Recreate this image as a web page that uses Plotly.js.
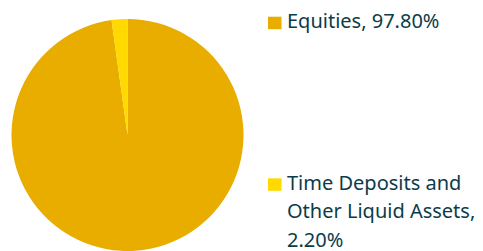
<!DOCTYPE html>
<html>
<head>
<meta charset="utf-8">
<script src="https://cdn.plot.ly/plotly-3.0.1.min.js"></script>
<style>html,body{margin:0;padding:0;background:#fff;}#chart{width:483px;height:251px;}</style>
</head>
<body>
<div id="chart"></div>
<script>
const labels = ["Equities", "Time Deposits and Other Liquid Assets"];
const values = [97.80, 2.20];
const colors = ["#E9AD00", "#FFD900"];

const W = 483, H = 251;
const FS = 20;
const textColor = "#0B3C49";

function wrap(text, maxChars) {
  const words = text.split(" ");
  const lines = [];
  let cur = "";
  words.forEach(w => {
    const t = cur ? cur + " " + w : w;
    if (t.length > maxChars && cur) { lines.push(cur); cur = w; }
    else cur = t;
  });
  if (cur) lines.push(cur);
  return lines;
}

const annotations = [];
const shapes = [];
const itemBaselines = [27.7, 189.3];
const lineGap = 28.5;
labels.forEach((lab, i) => {
  const full = lab + ", " + values[i].toFixed(2) + "%";
  const lines = wrap(full, 20);
  lines.forEach((ln, j) => {
    const base = itemBaselines[i] + j * lineGap;
    annotations.push({
      text: ln, xref: "paper", yref: "paper",
      x: 285.5 / W, y: 1 - (base - 0.36 * FS) / H,
      xanchor: "left", yanchor: "middle", showarrow: false, borderpad: 0,
      font: {family: "Noto Sans, Open Sans, sans-serif", size: FS, color: textColor}
    });
  });
  const sqTop = itemBaselines[i] - 11;
  shapes.push({
    type: "rect", xref: "paper", yref: "paper",
    x0: 268 / W, x1: 281.5 / W,
    y0: 1 - (sqTop + 12.5) / H, y1: 1 - sqTop / H,
    fillcolor: colors[i], line: {width: 0}
  });
});

const data = [{
  type: "pie",
  labels: labels,
  values: values,
  sort: false,
  direction: "clockwise",
  rotation: 0,
  textinfo: "none",
  hoverinfo: "none",
  marker: {colors: colors, line: {width: 0}},
  domain: {x: [11 / W, 244 / W], y: [0, 1 - 19 / H]},
  showlegend: false
}];

const layout = {
  width: W, height: H,
  margin: {l: 0, r: 0, t: 0, b: 0},
  paper_bgcolor: "#fff",
  showlegend: false,
  annotations: annotations,
  shapes: shapes
};

Plotly.newPlot("chart", data, layout, {displayModeBar: false, staticPlot: true});
</script>
</body>
</html>
